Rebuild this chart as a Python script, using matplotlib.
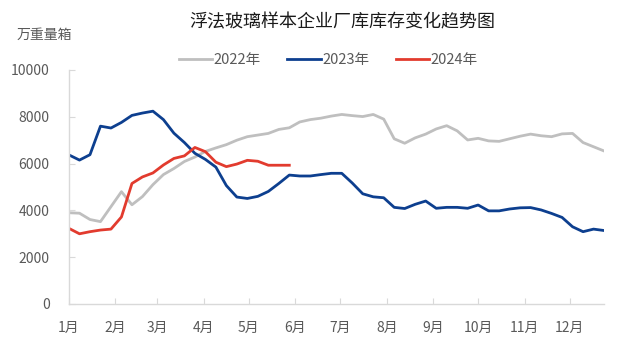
import pandas as pd
from matplotlib import pyplot as plt

plt.rcParams['font.family'] = ['Noto Sans CJK SC', 'DejaVu Sans']

# 周度库存，万重量箱
inv_2022 = [3900, 3880, 3610, 3520, 4160, 4800, 4240, 4590, 5100, 5530,
            5790, 6090, 6280, 6520, 6670, 6810, 7000, 7150, 7220, 7290,
            7460, 7530, 7780, 7880, 7940, 8030, 8100, 8050, 8010, 8100,
            7900, 7060, 6870, 7100, 7260, 7480, 7620, 7400, 7010, 7080,
            6970, 6950, 7060, 7170, 7260, 7190, 7150, 7270, 7290, 6900,
            6720, 6540]
inv_2023 = [6370, 6150, 6380, 7600, 7520, 7760, 8060, 8160, 8240, 7880,
            7300, 6900, 6440, 6180, 5850, 5060, 4570, 4510, 4600, 4810,
            5150, 5510, 5470, 5470, 5530, 5585, 5585, 5170, 4710, 4580,
            4540, 4130, 4080, 4260, 4400, 4090, 4130, 4130, 4090, 4230,
            3980, 3980, 4060, 4110, 4120, 4020, 3870, 3700, 3300, 3090,
            3200, 3140]
inv_2024 = [3230, 3000, 3090, 3160, 3200, 3720, 5150, 5430, 5600, 5940,
            6220, 6330, 6690, 6510, 6060, 5870, 5980, 6140, 6100, 5930,
            5930, 5930]

series = [('2022年', inv_2022, '#bfbfbf'),
          ('2023年', inv_2023, '#0d3f8f'),
          ('2024年', inv_2024, '#e23b2e')]

month_labels = [f'{m}月' for m in range(1, 13)]

fig = plt.figure(figsize=(6.29, 3.46), dpi=100)
ax = fig.add_axes([0.1097, 0.1214, 0.8506, 0.6763])

# 各年按周画在同一日历轴上
for name, vals, color in series:
    dates = pd.date_range('2023-01-01', periods=len(vals), freq='7D')
    ax.plot(dates, vals, color=color, lw=2.0, label=name)

ax.set_xlim(pd.Timestamp('2023-01-01'), pd.Timestamp('2023-12-24'))
ax.set_ylim(0, 10000)
ax.set_yticks(range(0, 10001, 2000))

month_starts = pd.date_range('2023-01-01', periods=12, freq='MS')
ax.set_xticks(month_starts)
ax.set_xticklabels(month_labels)

for side in ['top', 'right']:
    ax.spines[side].set_visible(False)
for side in ['left', 'bottom']:
    ax.spines[side].set_color('#d9d9d9')
    ax.spines[side].set_linewidth(1.0)
ax.tick_params(axis='both', direction='in', length=4, color='#d9d9d9',
               labelsize=10, labelcolor='#595959')
ax.tick_params(axis='x', pad=12)
ax.tick_params(axis='y', pad=14)

fig.text(0.545, 0.934, '浮法玻璃样本企业厂库库存变化趋势图', fontsize=13,
         color='#1a1a1a', ha='center', va='center')
fig.text(0.07, 0.899, '万重量箱', fontsize=10, color='#595959',
         ha='center', va='center')

ax.legend(loc='center', bbox_to_anchor=(0.522, 0.827), bbox_transform=fig.transFigure,
          ncol=3, frameon=False, fontsize=10.5, labelcolor='#595959',
          handlelength=2.3, handletextpad=0.1, columnspacing=1.8)

fig.savefig('out.png', dpi=100)
